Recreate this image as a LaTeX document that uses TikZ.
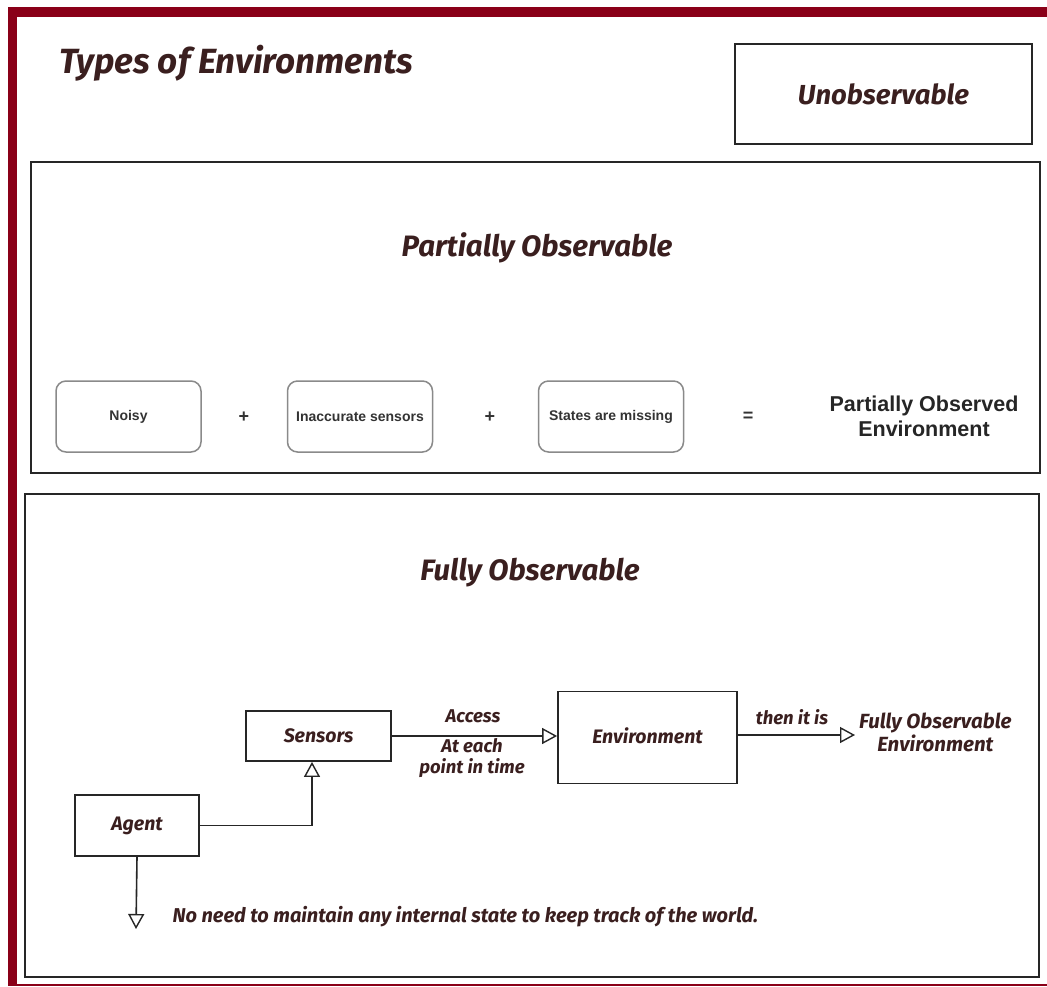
\documentclass[tikz,border=0pt]{standalone}
\usepackage{fontspec}
\setmainfont{Liberation Sans}
\newfontfamily\handfont{Fira Sans}
\usetikzlibrary{arrows.meta}
\definecolor{framered}{HTML}{8A0018}
\definecolor{inkbrown}{HTML}{3A1F1F}
\definecolor{boxgray}{HTML}{8A8A8A}
\definecolor{textgray}{HTML}{333333}
\tikzset{
  hand/.style={font=\handfont\bfseries\itshape, text=inkbrown},
  section/.style={draw=black!85, line width=1.8pt},
  stepbox/.style={draw=black!85, line width=1.8pt, hand, font=\handfont\bfseries\itshape\fontsize{19.5}{22}\selectfont},
  causebox/.style={draw=boxgray, line width=1.5pt, rounded corners=10pt,
    minimum width=145pt, minimum height=71pt,
    font=\bfseries\fontsize{14}{16}\selectfont, text=textgray, inner sep=1pt},
  opsign/.style={font=\bfseries\fontsize{18}{20}\selectfont, text=textgray},
  conn/.style={draw=black!85, line width=1.6pt,
    -{Triangle[open, length=15pt, width=16pt, line width=1.4pt]}},
  lbl/.style={hand, font=\handfont\bfseries\itshape\fontsize{18.5}{21}\selectfont, align=center}
}
\begin{document}
\begin{tikzpicture}[x=1pt, y=-1pt]
  \useasboundingbox (0,0) rectangle (1047,986);
  \fill[white] (0,0) rectangle (1047,986);

  % outer frame
  \fill[framered] (8,7) rectangle (1047,17);
  \fill[framered] (8,7) rectangle (17,986);
  \fill[framered] (8,983.5) rectangle (1047,986);

  % heading
  \node[hand, font=\handfont\bfseries\itshape\fontsize{35}{38}\selectfont, anchor=west]
    (title) at (56,63) {Types of Environments};

  % unobservable
  \node[section, minimum width=297pt, minimum height=100pt, hand,
        font=\handfont\bfseries\itshape\fontsize{27.5}{30}\selectfont]
    (unobs) at (883.5,94) {\raisebox{-4pt}{Unobservable}};

  % partially observable section
  \draw[section] (31,162) rectangle (1040,473);
  \node[hand, font=\handfont\bfseries\itshape\fontsize{29.5}{32}\selectfont]
    (pohead) at (537,248) {Partially Observable};
  \node[causebox] (noisy) at (128.5,416.5) {Noisy};
  \node[opsign] (plusA) at (244,417) {+};
  \node[causebox] (inacc) at (360,416.5) {Inaccurate sensors};
  \node[opsign] (plusB) at (490,417) {+};
  \node[causebox] (missing) at (611,416.5) {States are missing};
  \node[opsign] (equal) at (748,417) {=};
  \node[font=\bfseries\fontsize{21.5}{25}\selectfont, text=black!85, align=center]
    (poenv) at (924,416) {Partially Observed\\Environment};

  % fully observable section
  \draw[section] (25,494) rectangle (1039,977);
  \node[hand, font=\handfont\bfseries\itshape\fontsize{29.5}{32}\selectfont]
    (fohead) at (530,573) {Fully Observable};

  \node[stepbox, minimum width=145pt, minimum height=50pt] (sensors) at (318.5,736) {Sensors};
  \node[stepbox, minimum width=124pt, minimum height=61pt] (agent) at (137,825.5) {\raisebox{-4pt}{Agent}};
  \node[stepbox, minimum width=179pt, minimum height=92pt] (env) at (647.5,737.5) {\raisebox{3pt}{Environment}};
  \node[lbl, anchor=west, inner sep=4pt, font=\handfont\bfseries\itshape\fontsize{20.5}{23}\selectfont]
    (foenv) at (855,732) {Fully Observable\\Environment};
  \coordinate (agentend) at (136,929);

  \draw[conn] (agent.east) -| ([xshift=-6.5pt]sensors.south);
  \draw[conn] (sensors.east) -- (sensors.east -| env.west);
  \draw[conn] ([yshift=2.5pt]env.east) -- ([yshift=2.5pt]env.east -| foenv.west);
  \draw[conn] (agent.south) -- (agentend);

  \node[lbl] (access) at (473,716) {Access};
  \node[lbl] (eachtime) at (472,758) {At each\\point in time};
  \node[lbl] (thenis) at (792,717) {then it is};
  \node[lbl, anchor=west, font=\handfont\bfseries\itshape\fontsize{20}{23}\selectfont]
    (nointernal) at (169,917)
    {No need to maintain any internal state to keep track of the world.};
\end{tikzpicture}
\end{document}
